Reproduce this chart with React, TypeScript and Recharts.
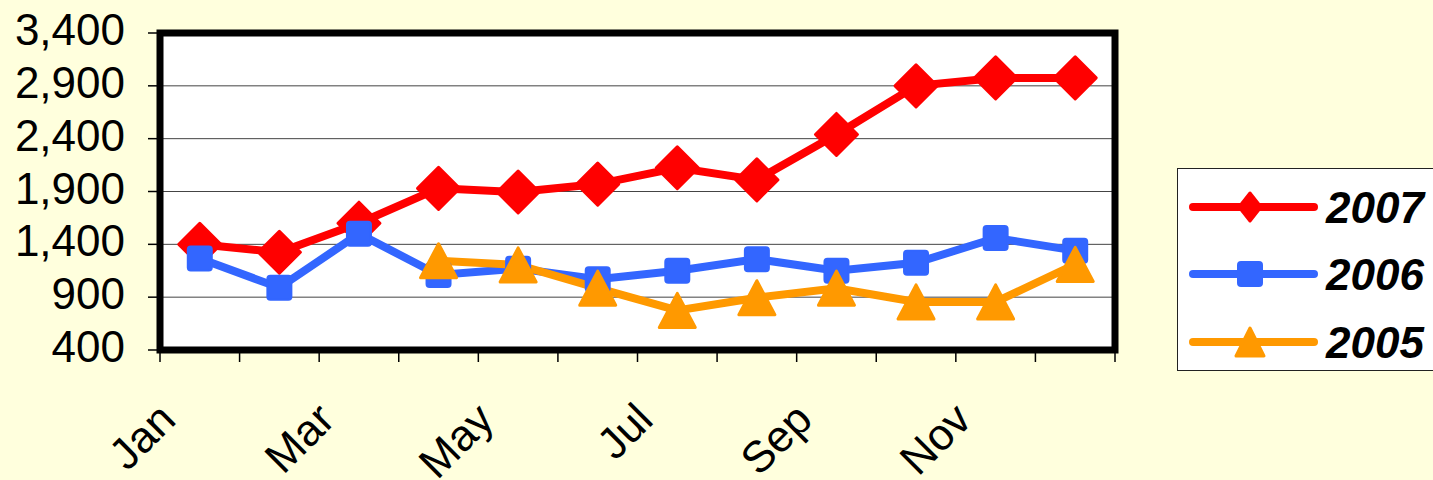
import React from 'react';
import { LineChart, Line, XAxis, YAxis, CartesianGrid, ReferenceArea, Legend } from 'recharts';

const months = ['Jan', 'Feb', 'Mar', 'Apr', 'May', 'Jun', 'Jul', 'Aug', 'Sep', 'Oct', 'Nov', 'Dec'];
const s2007 = [1400, 1325, 1600, 1930, 1895, 1970, 2125, 2010, 2440, 2900, 2975, 2975];
const s2006 = [1265, 990, 1500, 1110, 1170, 1070, 1150, 1260, 1150, 1225, 1460, 1340];
const s2005 = [null, null, null, 1245, 1205, 985, 775, 895, 985, 855, 855, 1210];
const yTicks = [400, 900, 1400, 1900, 2400, 2900, 3400];
const seriesNames = ['2007', '2006', '2005'];
const seriesKeys = ['y2007', 'y2006', 'y2005'];
const seriesColors = ['#FF0000', '#3366FF', '#FF9900'];
const seriesMarkers = ['diamond', 'square', 'triangle'];

const FONT = '"Liberation Sans", Arial, sans-serif';

const data = months.map((m, i) => ({
  month: m,
  pos: i + 0.5,
  y2007: s2007[i],
  y2006: s2006[i],
  y2005: s2005[i],
}));

const boundaryTicks = months.map((_, i) => i).concat([months.length]);
const labelTicks = months.map((_, i) => i + 0.5).filter((_, i) => i % 2 === 0);
const xTicks = boundaryTicks.concat(labelTicks).sort((a, b) => a - b);

const XTick = (props: any) => {
  const { x, y, payload } = props;
  const v = payload.value;
  if (Number.isInteger(v)) {
    return <line x1={x} y1={y - 12} x2={x} y2={y} stroke="#000" strokeWidth={1.5} />;
  }
  const label = months[Math.floor(v)];
  const ax = x - 22;
  const ay = y + 60;
  return (
    <text x={ax} y={ay} transform={`rotate(-45 ${ax} ${ay})`} textAnchor="end" fontSize={44} fontFamily={FONT} fill="#000">
      {label}
    </text>
  );
};

const YTick = (props: any) => {
  const { x, y, payload } = props;
  return (
    <text x={x} y={y} dy={12} textAnchor="end" fontSize={44} fontFamily={FONT} fill="#000">
      {Number(payload.value).toLocaleString('en-US')}
    </text>
  );
};

function marker(kind: string, color: string, cx: number, cy: number, key: string, small = false) {
  if (kind === 'diamond') {
    const hw = small ? 11 : 21;
    const hh = small ? 14 : 21;
    return (
      <polygon key={key} points={`${cx},${cy - hh} ${cx + hw},${cy} ${cx},${cy + hh} ${cx - hw},${cy}`}
        fill={color} stroke={color} strokeWidth={3} strokeLinejoin="round" />
    );
  }
  if (kind === 'square') {
    const h = 12;
    return <rect key={key} x={cx - h} y={cy - h} width={2 * h} height={2 * h} rx={3} fill={color} stroke={color} strokeWidth={2} />;
  }
  const hw = small ? 14 : 18;
  const hh = small ? 14 : 17;
  return (
    <polygon key={key} points={`${cx},${cy - hh} ${cx + hw},${cy + hh} ${cx - hw},${cy + hh}`}
      fill={color} stroke={color} strokeWidth={3} strokeLinejoin="round" />
  );
}

const makeDot = (idx: number) => (p: any) => {
  const key = `${seriesKeys[idx]}-${p.index}`;
  if (p.cx == null || p.cy == null || p.value == null) return <g key={key} />;
  return marker(seriesMarkers[idx], seriesColors[idx], p.cx, p.cy, key);
};

const rowY = [38, 105, 173];

const renderLegend = () => (
  <div style={{ width: 262, height: 203, boxSizing: 'border-box', border: '1.5px solid #222', background: '#fff' }}>
    <svg width={262} height={200} style={{ display: 'block' }}>
      {seriesNames.map((name, i) => (
        <g key={name}>
          <line x1={15} y1={rowY[i]} x2={136} y2={rowY[i]} stroke={seriesColors[i]} strokeWidth={8} strokeLinecap="round" />
          {marker(seriesMarkers[i], seriesColors[i], 72, rowY[i], `lg-${i}`, true)}
          <text x={148} y={rowY[i] + 16} fontSize={44} fontWeight="bold" fontStyle="italic" fontFamily={FONT} fill="#000">
            {name}
          </text>
        </g>
      ))}
    </svg>
  </div>
);

export default function App() {
  return (
    <div style={{ position: 'absolute', left: 0, top: 0, width: 1433, height: 480, background: '#FFFFDD', overflow: 'hidden' }}>
      <LineChart width={1433} height={480} data={data} margin={{ top: 33, right: 318, bottom: 0, left: 0 }}>
        <CartesianGrid vertical={false} stroke="#444" strokeWidth={1} fill="#FFFFFF" fillOpacity={1} />
        <XAxis
          dataKey="pos"
          type="number"
          domain={[0, 12]}
          ticks={xTicks}
          interval={0}
          height={130}
          axisLine={false}
          tickLine={false}
          tickSize={12}
          tickMargin={0}
          tick={<XTick />}
        />
        <YAxis
          type="number"
          domain={[400, 3400]}
          ticks={yTicks}
          interval={0}
          width={160}
          axisLine={false}
          tickLine={{ stroke: '#000', strokeWidth: 1.5 }}
          tickSize={12}
          tickMargin={23}
          tick={<YTick />}
        />
        <ReferenceArea x1={0} x2={12} y1={400} y2={3400} fill="none" stroke="#000" strokeWidth={7} ifOverflow="visible" />
        {seriesKeys.map((k, i) => (
          <Line
            key={k}
            type="linear"
            dataKey={k}
            name={seriesNames[i]}
            stroke={seriesColors[i]}
            strokeWidth={8}
            dot={makeDot(i)}
            activeDot={false}
            isAnimationActive={false}
          />
        ))}
        <Legend
          layout="horizontal"
          verticalAlign="middle"
          align="center"
          wrapperStyle={{ left: 1177, top: 168, width: 262, height: 203 }}
          content={renderLegend}
        />
      </LineChart>
    </div>
  );
}
